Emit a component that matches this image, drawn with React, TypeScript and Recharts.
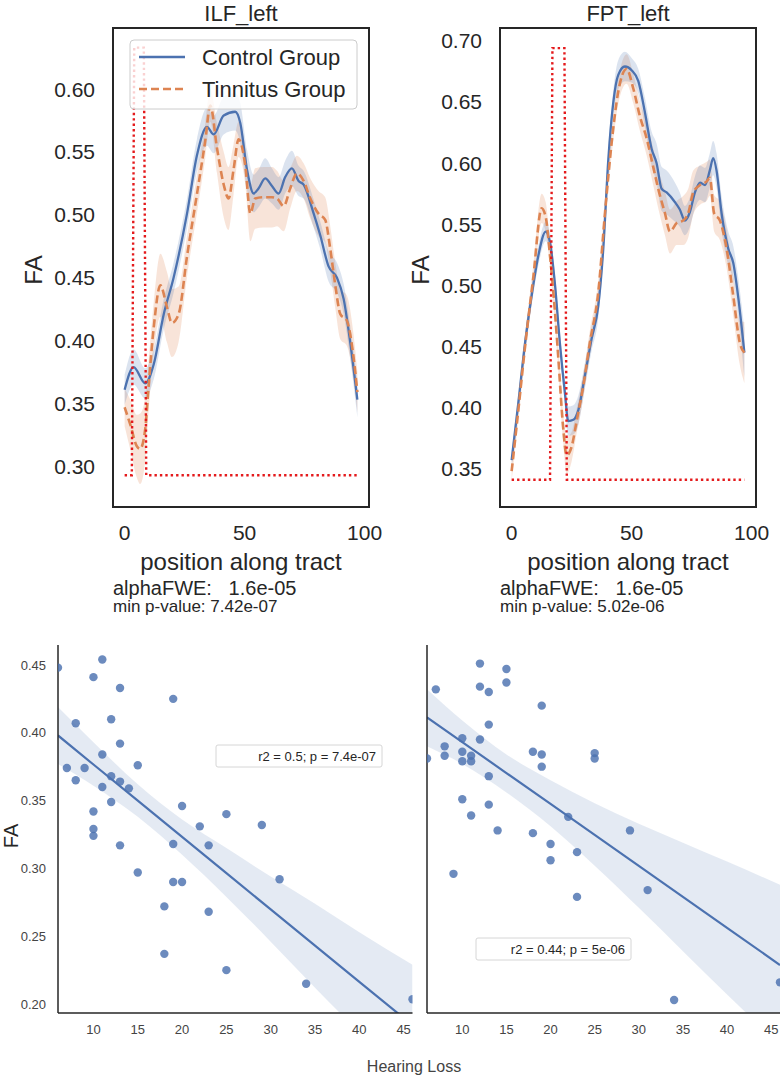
import { ComposedChart, Line, Area, Scatter, XAxis, YAxis } from 'recharts'

const BLUE = '#4c72b0'
const ORANGE = '#dd8452'
const RED = '#e41a1c'
const INK = '#262626'
const FONT = '"Liberation Sans", Arial, sans-serif'

// tract profiles: [position, mean FA, ci half width]
const ilfControl = [
  [0, 0.361, 0.012], [3.75, 0.379, 0.014], [8.6, 0.366, 0.012], [12.1, 0.381, 0.012], [16.3, 0.421, 0.012],
  [20.4, 0.45, 0.012], [26, 0.501, 0.012], [30.1, 0.547, 0.013], [34.3, 0.57, 0.015], [37.1, 0.564, 0.015],
  [41.3, 0.579, 0.015], [46.1, 0.582, 0.015], [48.2, 0.573, 0.016], [51, 0.536, 0.016], [53.8, 0.517, 0.015],
  [55.8, 0.521, 0.015], [58.6, 0.529, 0.016], [61.4, 0.523, 0.014], [64.2, 0.517, 0.013], [66.9, 0.53, 0.013],
  [69.7, 0.537, 0.014], [72.5, 0.527, 0.012], [74.6, 0.524, 0.011], [78.8, 0.501, 0.011], [81.5, 0.484, 0.011],
  [85, 0.459, 0.012], [88.5, 0.45, 0.012], [91.3, 0.433, 0.012], [94, 0.399, 0.013], [97, 0.353, 0.014],
]
const ilfTinnitus = [
  [0, 0.347, 0.015], [2.4, 0.333, 0.02], [5.1, 0.316, 0.025], [6.5, 0.314, 0.028], [8.6, 0.33, 0.025],
  [10, 0.364, 0.02], [12.1, 0.41, 0.02], [14.9, 0.444, 0.025], [17.6, 0.427, 0.028], [19.7, 0.414, 0.027],
  [22.5, 0.421, 0.022], [26, 0.467, 0.016], [30.1, 0.516, 0.015], [33.6, 0.559, 0.014], [35.7, 0.587, 0.013],
  [38.5, 0.553, 0.02], [41.3, 0.524, 0.026], [43.3, 0.513, 0.025], [45.4, 0.536, 0.02], [47.5, 0.56, 0.014],
  [50.3, 0.539, 0.015], [52.4, 0.501, 0.022], [54.4, 0.513, 0.024], [57.9, 0.514, 0.024], [61.4, 0.514, 0.024],
  [63.5, 0.513, 0.022], [66.3, 0.507, 0.02], [69, 0.521, 0.016], [71.8, 0.533, 0.014], [74.6, 0.527, 0.014],
  [77.4, 0.513, 0.016], [80.8, 0.501, 0.018], [83.6, 0.496, 0.018], [85.7, 0.473, 0.018], [87.8, 0.444, 0.018],
  [89.9, 0.421, 0.02], [92.6, 0.416, 0.02], [95.4, 0.387, 0.018], [97, 0.359, 0.016],
]
const ilfSig = [[0, 0.293], [3, 0.293], [4, 0.633], [8, 0.633], [9, 0.293], [97, 0.293]]

const fptControl = [
  [0, 0.357, 0.006], [2.8, 0.404, 0.007], [5.6, 0.453, 0.008], [8.3, 0.491, 0.008], [11.1, 0.524, 0.008],
  [14.2, 0.544, 0.008], [16, 0.535, 0.008], [18.1, 0.5, 0.008], [20.1, 0.453, 0.008], [22.2, 0.412, 0.01],
  [23.6, 0.389, 0.012], [25.7, 0.39, 0.012], [27.8, 0.398, 0.012], [30.6, 0.427, 0.01], [33.3, 0.456, 0.01],
  [36.1, 0.483, 0.01], [38.2, 0.53, 0.008], [40.3, 0.603, 0.008], [42.4, 0.65, 0.01], [44.4, 0.672, 0.012],
  [47.2, 0.679, 0.012], [50, 0.676, 0.01], [52.8, 0.667, 0.01], [55.6, 0.641, 0.012], [58.3, 0.612, 0.014],
  [60.4, 0.6, 0.016], [62.5, 0.579, 0.018], [64.6, 0.576, 0.018], [68.1, 0.568, 0.016], [70.1, 0.562, 0.014],
  [72.2, 0.553, 0.012], [74.3, 0.56, 0.012], [76.4, 0.576, 0.013], [78.5, 0.584, 0.014], [80.6, 0.582, 0.014],
  [82.6, 0.594, 0.014], [84, 0.604, 0.014], [85.4, 0.594, 0.014], [87.5, 0.559, 0.014], [90.3, 0.53, 0.014],
  [92.4, 0.518, 0.014], [94.4, 0.491, 0.016], [97, 0.445, 0.02],
]
const fptTinnitus = [
  [0, 0.348, 0.008], [2.8, 0.398, 0.008], [5.6, 0.45, 0.009], [9, 0.506, 0.01], [12.5, 0.563, 0.012],
  [14.2, 0.556, 0.012], [16, 0.524, 0.01], [18.1, 0.477, 0.01], [19.4, 0.442, 0.01], [21.5, 0.383, 0.012],
  [22.9, 0.361, 0.015], [25, 0.368, 0.012], [27.1, 0.389, 0.01], [29.9, 0.418, 0.01], [32.6, 0.453, 0.01],
  [36.1, 0.494, 0.01], [38.9, 0.559, 0.01], [41.7, 0.617, 0.01], [44.4, 0.658, 0.01], [47.9, 0.677, 0.012],
  [50.7, 0.661, 0.012], [53.5, 0.638, 0.012], [56.3, 0.62, 0.014], [59, 0.597, 0.015], [61.1, 0.579, 0.016],
  [63.9, 0.559, 0.018], [66, 0.544, 0.018], [68.8, 0.551, 0.018], [71.5, 0.553, 0.02], [73.6, 0.559, 0.02],
  [75.7, 0.576, 0.018], [78.5, 0.582, 0.016], [81.3, 0.585, 0.016], [82.6, 0.588, 0.015], [84.4, 0.559, 0.015],
  [86.8, 0.553, 0.016], [89.6, 0.53, 0.016], [92.4, 0.491, 0.016], [95.1, 0.453, 0.018], [97, 0.445, 0.025],
]
const fptSig = [[0, 0.341], [16, 0.341], [17, 0.694], [22, 0.694], [23, 0.341], [97, 0.341]]

const tractTicks = [0, 50, 100]
const ilfTicks = [0.3, 0.35, 0.4, 0.45, 0.5, 0.55, 0.6]
const fptTicks = [0.35, 0.4, 0.45, 0.5, 0.55, 0.6, 0.65, 0.7]

// hearing loss vs FA: [hearing loss, FA]
const ilfPoints = [
  [6, 0.448], [11, 0.454], [10, 0.441], [13, 0.433], [19, 0.425], [8, 0.407], [12, 0.41], [13, 0.392],
  [11, 0.384], [7, 0.374], [9, 0.374], [8, 0.365], [15, 0.376], [12, 0.368], [13, 0.364], [14, 0.359],
  [11, 0.36], [12, 0.349], [20, 0.346], [10, 0.342], [22, 0.331], [25, 0.34], [29, 0.332], [10, 0.329],
  [10, 0.324], [13, 0.317], [19, 0.318], [23, 0.317], [15, 0.297], [19, 0.29], [20, 0.29], [31, 0.292],
  [18, 0.272], [23, 0.268], [18, 0.237], [25, 0.225], [34, 0.215], [46, 0.2035],
]
const fptPoints = [
  [12, 0.451], [15, 0.447], [15, 0.437], [12, 0.434], [13, 0.43], [7, 0.432], [19, 0.42], [13, 0.406],
  [10, 0.396], [12, 0.395], [8, 0.39], [10, 0.386], [8, 0.383], [11, 0.383], [11, 0.379], [10, 0.379],
  [6, 0.381], [18, 0.386], [19, 0.384], [19, 0.375], [25, 0.385], [25, 0.381], [13, 0.368], [10, 0.351],
  [13, 0.347], [11, 0.339], [22, 0.338], [29, 0.328], [14, 0.328], [18, 0.326], [20, 0.318], [23, 0.312],
  [20, 0.306], [9, 0.296], [23, 0.279], [31, 0.284], [34, 0.203], [46, 0.216],
]
// regression fit: [hearing loss, fit, ci low, ci high]
const ilfFit = [
  [6, 0.398, 0.377, 0.419], [10, 0.3766, 0.361, 0.393], [15, 0.3499, 0.338, 0.362], [20, 0.3232, 0.31, 0.336],
  [25, 0.2965, 0.279, 0.315], [30, 0.2698, 0.246, 0.294], [35, 0.2431, 0.212, 0.274], [40, 0.2164, 0.179, 0.253],
  [46, 0.1844, 0.139, 0.229],
]
const fptFit = [
  [6, 0.4114, 0.39, 0.432], [10, 0.3931, 0.377, 0.409], [15, 0.3703, 0.356, 0.384], [20, 0.3475, 0.331, 0.365],
  [25, 0.3247, 0.302, 0.348], [30, 0.3018, 0.271, 0.333], [35, 0.279, 0.239, 0.319], [40, 0.2562, 0.207, 0.305],
  [46, 0.2288, 0.17, 0.288],
]
const hlTicks = [10, 15, 20, 25, 30, 35, 40, 45]
const faTicks = [0.2, 0.25, 0.3, 0.35, 0.4, 0.45]

const profile = (rows: number[][]) => rows.map(([x, y, h]) => ({ x, y, band: [y - h, y + h] }))
const pts = (rows: number[][]) => rows.map(([x, y]) => ({ x, y }))
const fit = (rows: number[][]) => rows.map(([x, y, lo, hi]) => ({ x, y, band: [lo, hi] }))

function TractPanel({ left, plotLeft, control, tinnitus, sig, yDomain, yTicks }: any) {
  const tickStyle = { fontSize: 21, fill: INK, fontFamily: FONT }
  return (
    <div style={{ position: 'absolute', left, top: 0 }}>
      <ComposedChart width={391} height={620} margin={{ top: 28, right: 391 - plotLeft - 256, bottom: 83, left: plotLeft - 60 }}>
        <XAxis type="number" dataKey="x" domain={[-4.85, 101.85]} ticks={tractTicks} allowDataOverflow
          axisLine={false} tickLine={false} tickSize={12} tickMargin={6} height={30} tick={tickStyle} />
        <YAxis type="number" domain={yDomain} ticks={yTicks} allowDataOverflow width={60}
          axisLine={false} tickLine={false} tickSize={12} tickMargin={6} tick={tickStyle}
          tickFormatter={(v: number) => v.toFixed(2)} />
        <Area data={tinnitus} dataKey="band" type="monotone" stroke="none" fill={ORANGE} fillOpacity={0.22} isAnimationActive={false} />
        <Area data={control} dataKey="band" type="monotone" stroke="none" fill={BLUE} fillOpacity={0.2} isAnimationActive={false} />
        <Line data={control} dataKey="y" type="monotone" stroke={BLUE} strokeWidth={2.3} dot={false} activeDot={false} isAnimationActive={false} />
        <Line data={tinnitus} dataKey="y" type="monotone" stroke={ORANGE} strokeWidth={2.6} strokeDasharray="8 4" dot={false} activeDot={false} isAnimationActive={false} />
        <Line data={sig} dataKey="y" type="linear" stroke={RED} strokeWidth={2.4} strokeDasharray="2.4 3" dot={false} activeDot={false} isAnimationActive={false} />
      </ComposedChart>
    </div>
  )
}

function RegPanel({ left, width, plotLeft, plotRight, points, fitRows, showY }: any) {
  const tickStyle = { fontSize: 13, fill: '#444', fontFamily: FONT }
  const yw = showY ? 50 : 1
  return (
    <div style={{ position: 'absolute', left, top: 630 }}>
      <ComposedChart width={width} height={420} data={fitRows}
        margin={{ top: 15, right: width - plotRight, bottom: 7, left: plotLeft - yw }}>
        <XAxis type="number" dataKey="x" domain={[6, 46]} ticks={hlTicks} allowDataOverflow height={30}
          axisLine={{ stroke: INK, strokeWidth: 1.5 }} tickLine={false} tickSize={6} tickMargin={6} tick={tickStyle} />
        <YAxis type="number" domain={[0.1934, 0.4647]} ticks={faTicks} allowDataOverflow width={yw}
          axisLine={{ stroke: INK, strokeWidth: 1.5 }} tickLine={false} tickSize={6} tickMargin={6}
          tick={showY ? tickStyle : false} tickFormatter={(v: number) => v.toFixed(2)} />
        <Area dataKey="band" type="monotone" stroke="none" fill={BLUE} fillOpacity={0.15} isAnimationActive={false} />
        <Scatter data={points} dataKey="y" fill={BLUE} fillOpacity={0.82} isAnimationActive={false}
          shape={(p: any) => <circle cx={p.cx} cy={p.cy} r={4.2} fill={BLUE} fillOpacity={0.82} />} />
        <Line dataKey="y" type="linear" stroke={BLUE} strokeWidth={2.2} dot={false} activeDot={false} isAnimationActive={false} />
      </ComposedChart>
    </div>
  )
}

export default function App() {
  const t = { fontFamily: FONT, fill: INK }
  return (
    <div style={{ position: 'absolute', left: 0, top: 0, width: 782, height: 1077, background: '#fff', overflow: 'hidden' }}>
      <TractPanel left={0} plotLeft={113} control={profile(ilfControl)} tinnitus={profile(ilfTinnitus)}
        sig={pts(ilfSig)} yDomain={[0.2677, 0.6486]} yTicks={ilfTicks} />
      <TractPanel left={391} plotLeft={109} control={profile(fptControl)} tinnitus={profile(fptTinnitus)}
        sig={pts(fptSig)} yDomain={[0.3187, 0.7105]} yTicks={fptTicks} />
      <RegPanel left={0} width={420} plotLeft={58} plotRight={412.5} points={pts(ilfPoints)} fitRows={fit(ilfFit)} showY />
      <RegPanel left={420} width={362} plotLeft={7} plotRight={360} points={pts(fptPoints)} fitRows={fit(fptFit)} showY={false} />

      <svg width={782} height={1077} style={{ position: 'absolute', left: 0, top: 0, pointerEvents: 'none' }}>
        <rect x={113} y={28} width={256} height={479} fill="none" stroke={INK} strokeWidth={2} />
        <rect x={500} y={28} width={256} height={479} fill="none" stroke={INK} strokeWidth={2} />

        <text x={241} y={21} textAnchor="middle" fontSize={22} {...t}>ILF_left</text>
        <text x={628} y={21} textAnchor="middle" fontSize={22} {...t}>FPT_left</text>
        <text transform="translate(42,270) rotate(-90)" textAnchor="middle" fontSize={24} {...t}>FA</text>
        <text transform="translate(429,270) rotate(-90)" textAnchor="middle" fontSize={24} {...t}>FA</text>
        <text x={241} y={570} textAnchor="middle" fontSize={24} {...t}>position along tract</text>
        <text x={628} y={570} textAnchor="middle" fontSize={24} {...t}>position along tract</text>
        <text x={113} y={595} fontSize={20} {...t} style={{ whiteSpace: 'pre' }}>{'alphaFWE:   1.6e-05'}</text>
        <text x={113} y={612} fontSize={17} {...t}>min p-value: 7.42e-07</text>
        <text x={500} y={595} fontSize={20} {...t} style={{ whiteSpace: 'pre' }}>{'alphaFWE:   1.6e-05'}</text>
        <text x={500} y={612} fontSize={17} {...t}>min p-value: 5.02e-06</text>

        <rect x={130} y={40} width={227} height={69} rx={4} fill="#fff" fillOpacity={0.8} stroke="#cccccc" />
        <line x1={139} x2={185} y1={57} y2={57} stroke={BLUE} strokeWidth={2.3} />
        <line x1={139} x2={185} y1={89} y2={89} stroke={ORANGE} strokeWidth={2.6} strokeDasharray="8 4" />
        <text x={202} y={65} fontSize={22} {...t}>Control Group</text>
        <text x={202} y={97} fontSize={22} {...t}>Tinnitus Group</text>

        <rect x={216} y={745} width={166} height={22} rx={2} fill="#fff" fillOpacity={0.8} stroke="#d6d6d6" />
        <text x={376} y={761} textAnchor="end" fontSize={13} {...t}>r2 = 0.5; p = 7.4e-07</text>
        <rect x={476} y={938} width={155} height={22} rx={2} fill="#fff" fillOpacity={0.8} stroke="#d6d6d6" />
        <text x={625} y={954} textAnchor="end" fontSize={13} {...t}>r2 = 0.44; p = 5e-06</text>

        <text transform="translate(18,836) rotate(-90)" textAnchor="middle" fontSize={20} {...t}>FA</text>
        <text x={414} y={1072} textAnchor="middle" fontSize={16} fontFamily={FONT} fill="#444">Hearing Loss</text>
      </svg>
    </div>
  )
}
